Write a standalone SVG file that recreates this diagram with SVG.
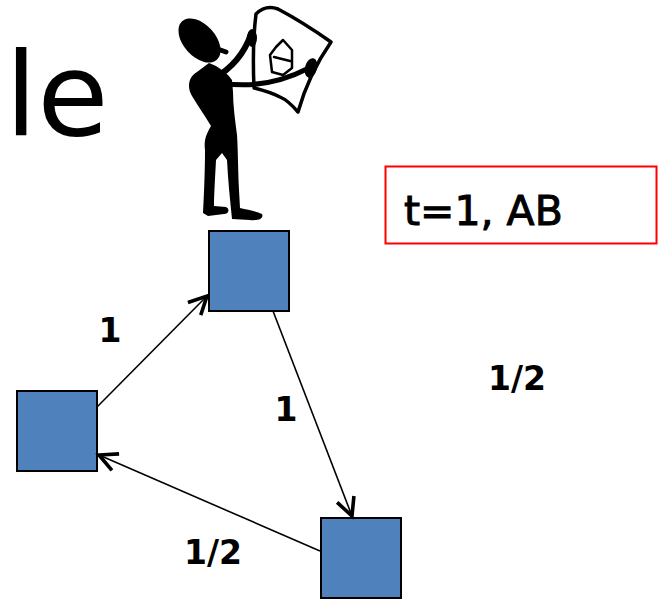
<svg xmlns="http://www.w3.org/2000/svg" width="662" height="599" viewBox="0 0 662 599">
  <style>
    .node { fill: #4F81BD; stroke: #000; stroke-width: 2; }
    .edge { fill: none; stroke: #000; stroke-width: 1.6; }
    .lbl { font-family: "DejaVu Sans", "Liberation Sans", sans-serif; font-weight: bold; font-size: 33px; fill: #000; text-anchor: middle; }
    .ink { fill: none; stroke: #000; stroke-linecap: round; stroke-linejoin: round; }
  </style>
  <defs>
    <marker id="vhead" markerUnits="userSpaceOnUse" viewBox="-24 -14 30 28" markerWidth="30" markerHeight="28" refX="0" refY="0" orient="auto">
      <path d="M-18,-9 L0,0 L-18,9" fill="none" stroke="#000" stroke-width="3.6" stroke-linejoin="miter"/>
    </marker>
  </defs>
  <rect width="662" height="599" fill="#fff"/>

  <!-- title fragment -->
  <text x="5" y="135" font-family="DejaVu Sans, Verdana, sans-serif" font-size="116" fill="#000">le</text>

  <!-- stick figure holding a drawing -->
  <g id="figure">
    <ellipse cx="199.5" cy="40.5" rx="26" ry="16" transform="rotate(48 199.5 40.5)" fill="#000"/>
    <path class="ink" d="M212,47 L226,52" stroke-width="5"/>
    <path fill="#000" d="M209,63 L216,66 C222,70 228,74 232,80 L233,92 C233,105 235,120 237,135 C238,150 238,170 239,190 L240,208 C248,210 256,211 262,214 C264,218 259,221 250,220 L232,219 C230,200 228,180 227,160 L222,153 L216,160 C215,180 214,195 214,206 L226,207 C230,209 229,214 224,214 L208,216 L203,213 C204,195 205,170 205,150 C204,142 205,136 211,126 C205,116 198,106 192,96 C187,88 188,77 197,72 C201,69 205,66 209,63 Z"/>
    <path class="ink" d="M213,79 C229,70 244,55 251,34" stroke-width="6"/>
    <ellipse cx="252" cy="38" rx="5" ry="9" fill="#000"/>
    <path class="ink" d="M216,82 C240,87 272,87 309,68" stroke-width="5"/>
    <ellipse cx="311" cy="68" rx="6" ry="10" transform="rotate(15 311 68)" fill="#000"/>
    <path class="ink" stroke-width="3.5" d="M254,88 C253,65 253,38 256,14 C262,8 270,6 278,9 C295,18 314,30 331,42 C322,55 307,80 298,112 C292,105 285,99 280,97 C272,93 262,90 254,88 Z"/>
    <path class="ink" stroke-width="2.5" d="M283,40 L292,50 L292,68 L283,75 L272,72 L270,55 L276,47 Z M274,57 L290,61"/>
  </g>

  <!-- state box -->
  <g id="state">
    <rect x="385.5" y="166.5" width="271" height="77" fill="#fff" stroke="#FF0000" stroke-width="2"/>
    <text x="404" y="225" font-family="DejaVu Sans, sans-serif" font-size="41" fill="#000" stroke="#000" stroke-width="1">t=1, AB</text>
  </g>

  <!-- nodes -->
  <g id="nodeTop"><rect class="node" x="209" y="231" width="80" height="80"/></g>
  <g id="nodeLeft"><rect class="node" x="17" y="391" width="80" height="80"/></g>
  <g id="nodeRight"><rect class="node" x="321" y="518" width="80" height="80"/></g>

  <!-- connectors -->
  <g id="edges">
    <line class="edge" x1="97" y1="407" x2="207" y2="296" marker-end="url(#vhead)"/>
    <line class="edge" x1="273" y1="311" x2="352" y2="516" marker-end="url(#vhead)"/>
    <line class="edge" x1="320" y1="551" x2="99" y2="455" marker-end="url(#vhead)"/>
  </g>

  <!-- edge labels -->
  <g id="labels">
    <text class="lbl" x="110" y="342">1</text>
    <text class="lbl" x="286" y="421">1</text>
    <text class="lbl" x="213" y="564">1/2</text>
    <text class="lbl" x="517" y="390">1/2</text>
  </g>
</svg>
